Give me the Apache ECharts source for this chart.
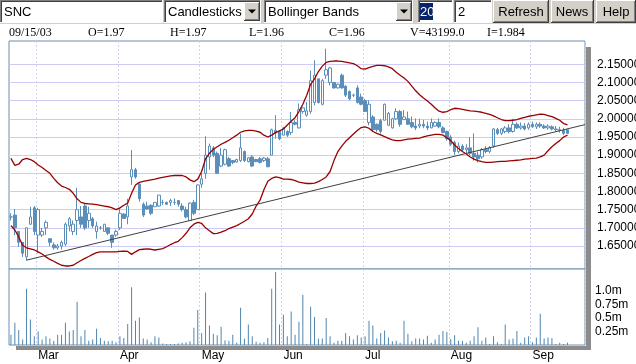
<!DOCTYPE html>
<html><head><meta charset="utf-8">
<script src="https://cdn.jsdelivr.net/npm/echarts@6/dist/echarts.min.js"></script>
<style>html,body{margin:0;padding:0;background:#fff;}#c{width:636px;height:364px;}</style>
</head><body><div id="c"></div>
<script>
// ---------- DATA ----------
const dates = [
'02/20','02/21','02/24','02/25','02/26','02/27','02/28',
'03/03','03/04','03/05','03/06','03/07','03/10','03/11','03/12','03/13','03/14','03/17','03/18','03/19','03/20','03/21','03/24','03/25','03/26','03/27','03/28','03/31',
'04/01','04/02','04/03','04/04','04/07','04/08','04/09','04/10','04/11','04/14','04/15','04/16','04/17','04/21','04/22','04/23','04/24','04/25','04/28','04/29','04/30',
'05/01','05/02','05/05','05/06','05/07','05/08','05/09','05/12','05/13','05/14','05/15','05/16','05/19','05/20','05/21','05/22','05/23','05/27','05/28','05/29','05/30',
'06/02','06/03','06/04','06/05','06/06','06/09','06/10','06/11','06/12','06/13','06/16','06/17','06/18','06/19','06/20','06/23','06/24','06/25','06/26','06/27','06/30',
'07/01','07/02','07/03','07/07','07/08','07/09','07/10','07/11','07/14','07/15','07/16','07/17','07/18','07/21','07/22','07/23','07/24','07/25','07/28','07/29','07/30','07/31',
'08/01','08/04','08/05','08/06','08/07','08/08','08/11','08/12','08/13','08/14','08/15','08/18','08/19','08/20','08/21','08/22','08/25','08/26','08/27','08/28','08/29',
'09/02','09/03','09/04','09/05','09/08','09/09','09/10','09/11','09/12','09/15',
'09/16','09/17','09/18','09/19'];
const monthLabels = {'03':'Mar','04':'Apr','05':'May','06':'Jun','07':'Jul','08':'Aug','09':'Sep'};

const opens = [1.73,1.735,1.69,1.66,1.62,1.71,1.755,1.68,1.68,1.70,1.67,1.653,1.645,1.65,1.655,1.705,1.69,1.72,1.73,1.76,1.72,1.725,1.69,1.70,1.69,1.70,1.68,1.68,1.70,1.738,1.73,1.84,1.86,1.82,1.765,1.76,1.762,1.758,1.76,1.77,1.77,1.77,1.77,1.775,1.76,1.75,1.72,1.77,1.75,1.82,1.85,1.895,1.92,1.905,1.87,1.875,1.89,1.885,1.881,1.885,1.91,1.882,1.895,1.888,1.89,1.885,1.89,1.90,1.968,1.965,1.955,1.965,1.962,1.99,1.975,2.02,2.01,2.02,2.045,2.11,2.04,2.12,2.10,2.10,2.085,2.12,2.09,2.075,2.065,2.085,2.06,2.05,1.99,2.005,1.985,1.995,1.996,1.982,1.975,2.00,2.02,1.998,2.00,1.99,1.98,1.98,1.985,1.98,1.975,1.98,1.99,1.975,1.965,1.95,1.935,1.91,1.925,1.915,1.92,1.905,1.90,1.895,1.915,1.91,1.925,1.97,1.96,1.965,1.975,1.965,1.985,1.975,1.98,1.975,1.985,1.978,1.985,1.98,1.975,1.978,1.972,1.97,1.968,1.97];
const highs = [1.74,1.752,1.69,1.66,1.70,1.758,1.76,1.755,1.70,1.72,1.67,1.66,1.656,1.665,1.715,1.73,1.72,1.81,1.76,1.767,1.758,1.73,1.717,1.705,1.71,1.70,1.68,1.695,1.755,1.74,1.78,1.914,1.865,1.822,1.77,1.772,1.765,1.77,1.79,1.777,1.772,1.78,1.781,1.776,1.768,1.758,1.77,1.777,1.82,1.85,1.952,1.932,1.925,1.91,1.92,1.918,1.895,1.886,1.89,1.959,1.913,1.895,1.90,1.89,1.895,1.895,1.895,1.973,2.01,1.968,1.978,1.968,2.019,1.996,2.042,2.033,2.046,2.133,2.161,2.11,2.11,2.193,2.143,2.101,2.097,2.124,2.092,2.078,2.069,2.092,2.069,2.055,2.051,2.01,1.987,2.00,2.042,2.019,2.003,2.029,2.024,2.024,2.02,2.006,2.001,2.00,1.997,1.992,2.001,1.993,2.001,1.98,1.968,1.955,1.94,1.935,1.93,1.93,1.95,1.96,1.91,1.92,1.925,1.925,1.975,1.975,1.975,1.98,1.985,2.00,1.99,1.99,1.988,1.99,1.992,1.99,1.99,1.985,1.985,1.982,1.98,1.978,1.975,1.97];
const lows = [1.72,1.68,1.648,1.62,1.61,1.708,1.68,1.63,1.675,1.68,1.65,1.64,1.64,1.64,1.65,1.69,1.68,1.68,1.70,1.694,1.70,1.70,1.67,1.695,1.69,1.68,1.645,1.675,1.694,1.725,1.71,1.818,1.835,1.772,1.73,1.75,1.735,1.758,1.758,1.763,1.763,1.76,1.763,1.758,1.745,1.726,1.72,1.735,1.75,1.81,1.835,1.86,1.895,1.849,1.867,1.872,1.867,1.875,1.88,1.881,1.881,1.88,1.867,1.881,1.877,1.881,1.867,1.90,1.945,1.941,1.955,1.95,1.955,1.982,1.973,2.014,2.006,2.014,2.037,2.042,2.037,2.11,2.092,2.083,2.083,2.083,2.06,2.051,2.06,2.042,2.037,2.019,1.982,1.964,1.964,1.959,1.996,1.982,1.973,1.998,1.978,1.996,1.983,1.974,1.969,1.974,1.974,1.969,1.974,1.978,1.974,1.96,1.94,1.925,1.90,1.905,1.91,1.905,1.90,1.885,1.88,1.89,1.905,1.905,1.92,1.955,1.955,1.96,1.96,1.962,1.972,1.97,1.968,1.97,1.975,1.972,1.975,1.972,1.97,1.968,1.965,1.962,1.955,1.96];
const closes = [1.73,1.70,1.66,1.63,1.70,1.73,1.69,1.75,1.69,1.715,1.66,1.645,1.65,1.66,1.71,1.725,1.71,1.75,1.71,1.70,1.74,1.705,1.705,1.70,1.71,1.685,1.66,1.69,1.74,1.726,1.76,1.86,1.84,1.78,1.735,1.752,1.74,1.77,1.79,1.77,1.765,1.775,1.77,1.765,1.75,1.73,1.768,1.74,1.818,1.835,1.90,1.925,1.90,1.85,1.90,1.915,1.87,1.88,1.888,1.92,1.885,1.893,1.87,1.882,1.88,1.892,1.868,1.97,1.962,1.945,1.975,1.955,1.99,1.985,2.025,2.03,2.022,2.105,2.12,2.045,2.105,2.135,2.14,2.085,2.095,2.085,2.065,2.055,2.065,2.045,2.04,2.02,2.04,1.97,1.97,1.965,2.04,2.015,2.00,2.02,1.985,2.005,1.985,1.978,1.975,1.985,1.98,1.975,1.99,1.99,1.978,1.962,1.945,1.93,1.91,1.925,1.915,1.92,1.905,1.895,1.89,1.915,1.91,1.92,1.972,1.96,1.972,1.975,1.965,1.985,1.975,1.98,1.972,1.985,1.978,1.985,1.98,1.975,1.98,1.972,1.97,1.968,1.96,1.96];

const upperBand = [1.891,1.872,1.875,1.888,1.891,1.888,1.882,1.873,1.866,1.858,1.850,1.836,1.824,1.815,1.811,1.806,1.795,1.780,1.770,1.767,1.766,1.765,1.764,1.762,1.760,1.758,1.755,1.750,1.755,1.762,1.768,1.795,1.818,1.825,1.828,1.830,1.832,1.834,1.837,1.839,1.841,1.843,1.844,1.844,1.844,1.840,1.832,1.827,1.834,1.855,1.89,1.905,1.916,1.923,1.930,1.935,1.941,1.948,1.955,1.963,1.967,1.968,1.968,1.966,1.963,1.955,1.950,1.955,1.962,1.967,1.972,1.983,1.993,2.003,2.02,2.04,2.065,2.095,2.11,2.13,2.145,2.155,2.158,2.159,2.159,2.158,2.156,2.154,2.152,2.146,2.138,2.137,2.141,2.144,2.147,2.147,2.146,2.143,2.138,2.128,2.12,2.112,2.103,2.09,2.077,2.066,2.057,2.049,2.04,2.03,2.021,2.018,2.02,2.025,2.029,2.028,2.026,2.024,2.022,2.021,2.02,2.018,2.015,2.012,2.008,2.003,1.998,1.995,1.995,1.996,1.998,2.001,2.004,2.007,2.009,2.011,2.013,2.012,2.009,2.006,2.001,1.996,1.987,1.983];
const lowerBand = [1.706,1.694,1.675,1.652,1.645,1.642,1.639,1.634,1.628,1.62,1.613,1.608,1.602,1.597,1.595,1.595,1.597,1.604,1.61,1.616,1.621,1.627,1.632,1.634,1.634,1.634,1.634,1.634,1.635,1.636,1.635,1.627,1.634,1.64,1.641,1.642,1.641,1.639,1.641,1.643,1.648,1.654,1.659,1.663,1.673,1.685,1.70,1.71,1.715,1.712,1.70,1.692,1.684,1.685,1.688,1.692,1.698,1.702,1.706,1.712,1.718,1.725,1.738,1.76,1.776,1.805,1.828,1.836,1.84,1.838,1.834,1.834,1.833,1.83,1.826,1.824,1.822,1.822,1.823,1.827,1.833,1.84,1.855,1.885,1.91,1.925,1.938,1.948,1.958,1.968,1.976,1.978,1.974,1.965,1.96,1.956,1.951,1.946,1.942,1.94,1.94,1.942,1.944,1.945,1.946,1.947,1.95,1.953,1.955,1.957,1.957,1.955,1.948,1.94,1.928,1.918,1.91,1.903,1.895,1.889,1.885,1.882,1.88,1.88,1.881,1.882,1.883,1.883,1.884,1.885,1.886,1.887,1.889,1.89,1.891,1.892,1.895,1.90,1.912,1.923,1.932,1.94,1.95,1.955];

const volumes = [0.19,0.41,0.28,0.10,1.04,0.47,0.16,0.25,0.10,0.16,0.12,0.08,0.19,0.19,0.41,0.25,0.28,0.80,0.16,0.28,0.08,0.10,0.30,0.13,0.08,0.07,0.08,0.05,0.16,0.13,0.39,1.07,0.45,0.51,0.12,0.10,0.05,0.16,0.14,0.03,0.02,0.02,0.02,0.03,0.04,0.05,0.07,0.32,0.65,0.22,0.97,0.36,0.21,0.18,0.34,0.09,0.08,0.19,0.04,0.69,0.12,0.38,0.16,0.06,0.04,0.05,0.13,1.04,1.35,0.38,0.56,0.16,0.62,0.19,0.43,0.93,0.02,0.71,0.52,0.12,
0.12,0.50,0.16,0.04,0.08,0.08,0.22,0.16,0.10,0.18,0.14,0.16,0.45,0.36,0.12,0.22,0.27,0.14,0.07,0.08,0.04,0.45,0.21,0.07,0.12,0.12,0.10,0.17,0.04,0.10,0.19,0.26,0.24,0.11,0.18,0.08,0.08,0.04,0.08,0.16,0.33,0.08,0.14,0.02,0.16,0.05,0.02,0.38,0.10,0.12,0.26,0.04,0.14,0.16,0.05,0.14,0.58,0.12,0.14,0.13,0.02,0.04,0.02,0.043];

const trendLine = [[4.5, 1.611], [148, 1.984]];
const priceTicks = [1.65,1.70,1.75,1.80,1.85,1.90,1.95,2.00,2.05,2.10,2.15];
const volumeTicks = {0.25:'0.25m', 0.5:'0.5m', 0.75:'0.75m', 1:'1.0m'};
const infoItems = [['09/15/03',9],['O=1.97',88],['H=1.97',170],['L=1.96',249],['C=1.96',329],['V=43199.0',410],['I=1.984',487]];

// ---------- BUILD ----------
const monthStart = dates.map((d,i)=> i>0 && d.slice(0,2)!==dates[i-1].slice(0,2) && i<144);
const candles = opens.map((o,i)=>[o, closes[i], lows[i], highs[i]]);
const isPriceTick = (v)=> priceTicks.some(t=>Math.abs(t-v)<1e-6);

const G = [];
function rect(x,y,w,h,fill,stroke){G.push({type:'rect',shape:{x:x,y:y,width:w,height:h},style:{fill:fill,stroke:stroke||null,lineWidth:1},silent:true});}
function ln(x1,y1,x2,y2,c){G.push({type:'line',shape:{x1:x1,y1:y1,x2:x2,y2:y2},style:{stroke:c,lineWidth:1},silent:true});}
function txt(x,y,t,font,color,align){G.push({type:'text',x:x,y:y,style:{text:t,font:font,fill:color||'#000',align:align||'left',verticalAlign:'middle',textAlign:align||'left',textVerticalAlign:'middle'},silent:true});}
function sunken(x,y,w,h){rect(x,y,w,h,'#ffffff');ln(x,y+0.5,x+w,y+0.5,'#808080');ln(x+0.5,y,x+0.5,y+h,'#808080');ln(x+1,y+1.5,x+w-1,y+1.5,'#404040');ln(x+1.5,y+1,x+1.5,y+h-1,'#404040');ln(x,y+h-0.5,x+w,y+h-0.5,'#ffffff');ln(x+w-0.5,y,x+w-0.5,y+h,'#ffffff');}
function raised(x,y,w,h){rect(x,y,w,h,'#d4d0c8');ln(x,y+0.5,x+w,y+0.5,'#ffffff');ln(x+0.5,y,x+0.5,y+h,'#ffffff');ln(x,y+h-0.5,x+w,y+h-0.5,'#404040');ln(x+w-0.5,y,x+w-0.5,y+h,'#404040');ln(x+1,y+h-1.5,x+w-1,y+h-1.5,'#808080');ln(x+w-1.5,y+1,x+w-1.5,y+h-1,'#808080');}
function arrowBtn(x,y,w,h){raised(x,y,w,h);G.push({type:'polygon',shape:{points:[[x+w/2-4,y+h/2-2],[x+w/2+4,y+h/2-2],[x+w/2,y+h/2+2]]},style:{fill:'#000'},silent:true});}
const F = '13px "Liberation Sans", Arial, sans-serif';
rect(0,0,636,24,'#d4d0c8');
sunken(0,0,163,23); txt(4,12,'SNC',F);
sunken(164,0,97,23); txt(168,12,'Candlesticks',F); arrowBtn(244,2,16,19);
sunken(264,0,149,23); txt(268,12,'Bollinger Bands',F); arrowBtn(396,2,16,19);
sunken(418,0,35,23); rect(420,3,13,17,'#0a246a'); txt(420,12,'20',F,'#ffffff');
sunken(454,0,38,23); txt(458,12,'2',F);
raised(493,0,56,23); txt(521,12,'Refresh',F,'#000','center');
raised(551,0,43,23); txt(572,12,'News',F,'#000','center');
raised(596,0,40,23); txt(616,12,'Help',F,'#000','center');
infoItems.forEach(it=>txt(it[1],33,it[0],'12px "Liberation Serif", "Times New Roman", serif'));
// panel shadow
rect(586,47,5,303,'#8c8c8c');
rect(16,346,575,4,'#8c8c8c');

const chart = echarts.init(document.getElementById('c'), null, {renderer:'canvas'});
const frame = '#6a8fb0';
const gridLine = '#ccccf4';
const vLine = {show:true, interval:(i)=>monthStart[i], lineStyle:{color:'#d2d2ea', type:[2,2]}};
const labelFont = '"Liberation Sans", Arial, sans-serif';
chart.setOption({
  animation:false,
  backgroundColor:'#ffffff',
  graphic:{elements:G},
  grid:[
    {left:9, top:41, width:576, height:228, show:true, borderColor:frame, borderWidth:1, backgroundColor:'#fff', containLabel:false, outerBoundsMode:'none'},
    {left:9, top:269, width:576, height:76, show:true, borderColor:frame, borderWidth:1, backgroundColor:'#fff', containLabel:false, outerBoundsMode:'none'}
  ],
  xAxis:[
    {type:'category', gridIndex:0, data:dates, boundaryGap:true, axisLine:{show:false}, axisTick:{show:false}, axisLabel:{show:false}, splitLine:vLine},
    {type:'category', gridIndex:1, data:dates, boundaryGap:true, axisLine:{show:false}, axisTick:{show:false}, splitLine:vLine,
      axisLabel:{show:true, interval:(i)=>monthStart[i], formatter:(v)=>monthLabels[v.slice(0,2)]||'', align:'left', margin:5, color:'#000', fontSize:12, fontFamily:labelFont}},
    {type:'value', gridIndex:0, min:0, max:148, show:false}
  ],
  yAxis:[
    {type:'value', gridIndex:0, position:'right', min:1.5867, max:2.2141, minInterval:0.05, maxInterval:0.05,
      axisLine:{show:false}, axisTick:{show:false},
      axisLabel:{showMinLabel:false, showMaxLabel:false, margin:12, color:'#000', fontSize:12, fontFamily:labelFont, formatter:(v)=> isPriceTick(v) ? v.toFixed(5) : ''},
      splitLine:{show:false}},
    {type:'value', gridIndex:1, position:'right', min:0, max:1.407, interval:0.25,
      axisLine:{show:false}, axisTick:{show:false},
      axisLabel:{showMinLabel:false, showMaxLabel:false, margin:10, color:'#000', fontSize:12, fontFamily:labelFont, formatter:(v)=>volumeTicks[v]||''},
      splitLine:{show:false}}
  ],
  series:[
    {type:'candlestick', xAxisIndex:0, yAxisIndex:0, data:candles, barWidth:3, z:3,
      itemStyle:{color:'#ffffff', color0:'#5b8fba', borderColor:'#5b8fba', borderColor0:'#5b8fba', borderWidth:1},
      markLine:{silent:true, symbol:['none','none'], z:1, label:{show:false}, lineStyle:{color:gridLine, type:'solid', width:1},
        data: priceTicks.map(t=>({yAxis:t}))}},
    {type:'line', xAxisIndex:0, yAxisIndex:0, data:upperBand, symbol:'none', z:4, lineStyle:{color:'#990000', width:1.3}},
    {type:'line', xAxisIndex:0, yAxisIndex:0, data:lowerBand, symbol:'none', z:4, lineStyle:{color:'#990000', width:1.3}},
    {type:'line', xAxisIndex:2, yAxisIndex:0, data:trendLine, symbol:'none', z:4, lineStyle:{color:'#404040', width:1}},
    {type:'bar', xAxisIndex:1, yAxisIndex:1, data:volumes, barWidth:1, itemStyle:{color:'#4f86b0'}}
  ]
});
</script></body></html>
